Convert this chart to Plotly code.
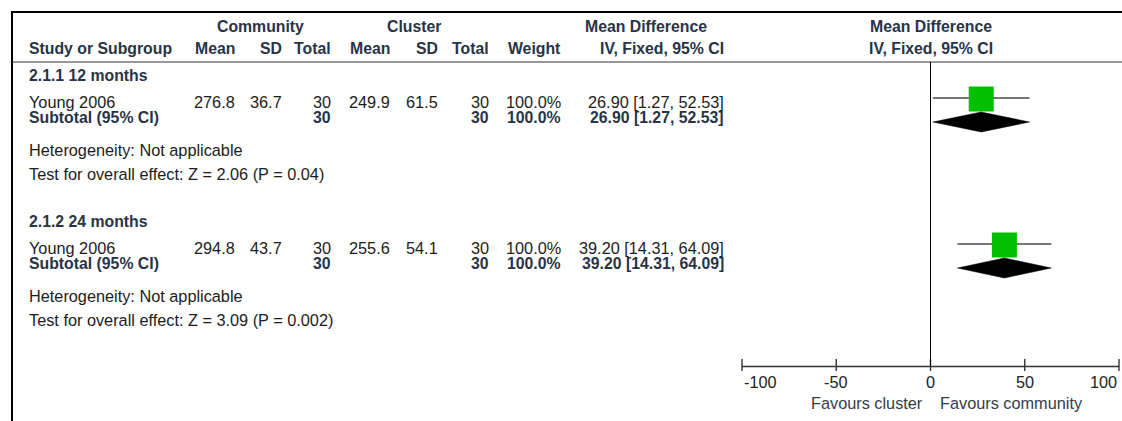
import plotly.graph_objects as go

# ---- data -------------------------------------------------------------
subgroups = ["2.1.1 12 months", "2.1.2 24 months"]
studies = ["Young 2006", "Young 2006"]
comm_mean = [276.8, 294.8]
comm_sd = [36.7, 43.7]
comm_n = [30, 30]
clus_mean = [249.9, 255.6]
clus_sd = [61.5, 54.1]
clus_n = [30, 30]
weight = [100.0, 100.0]
md = [26.90, 39.20]
ci_lo = [1.27, 14.31]
ci_hi = [52.53, 64.09]
sub_md = [26.90, 39.20]
sub_lo = [1.27, 14.31]
sub_hi = [52.53, 64.09]
heterogeneity = ["Not applicable", "Not applicable"]
z_values = [2.06, 3.09]
p_values = ["0.04", "0.002"]
tick_vals = [-100, -50, 0, 50, 100]
tick_text = ["-100", "-50", "0", "50", "100"]
left_label = "Favours cluster"
right_label = "Favours community"

# ---- layout constants (pixel rows / columns of the page) ---------------
W, H = 1122, 421
FONT = "Liberation Sans, Arial, sans-serif"
FS = 16.3
FS_B = 15.8
TXT = "#1c1c1c"
BOLD = "#283346"
AX_LEFT, AX_RIGHT = 742, 1119
AX_Y = 366.5
PAD = 2  # px of slack each side so the end ticks are not clipped
UNITS_PER_PX = (tick_vals[-1] - tick_vals[0]) / (AX_RIGHT - AX_LEFT)
group_top = [75, 221]

col_right = dict(cm=237, csd=284, cn=333, km=392, ksd=440, kn=491, w=563, ci=726)
STUDY_X = 27


def px(x):
    return x / W


def py(y):
    return 1 - y / H


annotations = []


def text(s, x, y, anchor="left", bold=False, color=None):
    annotations.append(dict(
        text=f"<b>{s}</b>" if bold else s,
        x=px(x), y=py(y), xref="paper", yref="paper",
        xanchor=anchor, yanchor="middle", showarrow=False,
        font=dict(family=FONT, size=FS_B if bold else FS,
                  color=color or (BOLD if bold else TXT)),
    ))


# header rows
text("Community", 260, 27, "center", True)
text("Cluster", 414, 27, "center", True)
text("Mean Difference", 646, 27, "center", True)
text("Mean Difference", (AX_LEFT + AX_RIGHT) / 2, 27, "center", True)
text("Study or Subgroup", STUDY_X, 49, "left", True)
for key, lab in [("cm", "Mean"), ("csd", "SD"), ("cn", "Total"), ("km", "Mean"),
                 ("ksd", "SD"), ("kn", "Total"), ("w", "Weight"), ("ci", "IV, Fixed, 95% CI")]:
    text(lab, col_right[key], 49, "right", True)
text("IV, Fixed, 95% CI", (AX_LEFT + AX_RIGHT) / 2, 49, "center", True)

fig = go.Figure()

for i, top in enumerate(group_top):
    y_sub, y_study, y_tot, y_het, y_test = top, top + 27, top + 42, top + 75, top + 99
    text(subgroups[i], STUDY_X, y_sub, "left", True)

    # study row
    text(studies[i], STUDY_X, y_study)
    text(f"{comm_mean[i]:.1f}", col_right["cm"], y_study, "right")
    text(f"{comm_sd[i]:.1f}", col_right["csd"], y_study, "right")
    text(f"{comm_n[i]}", col_right["cn"], y_study, "right")
    text(f"{clus_mean[i]:.1f}", col_right["km"], y_study, "right")
    text(f"{clus_sd[i]:.1f}", col_right["ksd"], y_study, "right")
    text(f"{clus_n[i]}", col_right["kn"], y_study, "right")
    text(f"{weight[i]:.1f}%", col_right["w"], y_study, "right")
    text(f"{md[i]:.2f} [{ci_lo[i]:.2f}, {ci_hi[i]:.2f}]", col_right["ci"], y_study, "right")

    # subtotal row
    text("Subtotal (95% CI)", STUDY_X, y_tot, "left", True)
    text(f"{comm_n[i]}", col_right["cn"], y_tot, "right", True)
    text(f"{clus_n[i]}", col_right["kn"], y_tot, "right", True)
    text(f"{weight[i]:.1f}%", col_right["w"], y_tot, "right", True)
    text(f"{sub_md[i]:.2f} [{sub_lo[i]:.2f}, {sub_hi[i]:.2f}]", col_right["ci"], y_tot, "right", True)

    text(f"Heterogeneity: {heterogeneity[i]}", STUDY_X, y_het)
    text(f"Test for overall effect: Z = {z_values[i]:.2f} (P = {p_values[i]})", STUDY_X, y_test)

    # confidence interval whisker
    y_mark = y_study - 4
    fig.add_trace(go.Scatter(
        x=[ci_lo[i], ci_hi[i]], y=[y_mark, y_mark], mode="lines",
        line=dict(color="#4a4a4a", width=1.3), hoverinfo="skip",
    ))
    # weighted square
    fig.add_trace(go.Scatter(
        x=[md[i]], y=[y_mark + 1], mode="markers",
        marker=dict(symbol="square", size=25 * (weight[i] / 100) ** 0.5,
                    color="#00c000", line=dict(width=0)),
        hoverinfo="skip",
    ))
    # pooled diamond
    yc = y_tot + 5
    fig.add_trace(go.Scatter(
        x=[sub_lo[i], sub_md[i], sub_hi[i], sub_md[i], sub_lo[i]],
        y=[yc, yc - 10, yc, yc + 10, yc],
        mode="lines", fill="toself", fillcolor="black",
        line=dict(color="black", width=0.5), hoverinfo="skip",
    ))

# effect axis: baseline and ticks crossing it
fig.add_trace(go.Scatter(
    x=[tick_vals[0], tick_vals[-1]], y=[AX_Y, AX_Y], mode="lines",
    line=dict(color="#333", width=1.4), hoverinfo="skip",
))
tick_x, tick_y = [], []
for v in tick_vals:
    tick_x += [v, v, None]
    tick_y += [AX_Y - 7.5, AX_Y + 4.5, None]
fig.add_trace(go.Scatter(
    x=tick_x, y=tick_y, mode="lines",
    line=dict(color="#333", width=1.4), hoverinfo="skip",
))

# axis tick labels, end labels kept inside the axis span
for v, t in zip(tick_vals, tick_text):
    anchor = "left" if v == tick_vals[0] else "right" if v == tick_vals[-1] else "center"
    annotations.append(dict(
        text=t, x=v, y=py(382), xref="x", yref="paper", xanchor=anchor, yanchor="middle",
        showarrow=False, font=dict(family=FONT, size=FS, color="#222"),
    ))

annotations.append(dict(
    text=left_label, x=0, y=py(403), xref="x", yref="paper", xanchor="right", xshift=-6,
    yanchor="middle", showarrow=False, font=dict(family=FONT, size=FS, color="#343c4c"),
))
annotations.append(dict(
    text=right_label, x=0, y=py(403), xref="x", yref="paper", xanchor="left", xshift=7,
    yanchor="middle", showarrow=False, font=dict(family=FONT, size=FS, color="#343c4c"),
))

shapes = [
    # outer frame (top and left) and header rule
    dict(type="line", xref="paper", yref="paper", x0=px(11), x1=1, y0=py(12), y1=py(12),
         line=dict(color="black", width=2)),
    dict(type="line", xref="paper", yref="paper", x0=px(12), x1=px(12), y0=py(11), y1=0,
         line=dict(color="black", width=2)),
    dict(type="line", xref="paper", yref="paper", x0=px(12), x1=1, y0=py(62), y1=py(62),
         line=dict(color="#333", width=1)),
    # line of no effect
    dict(type="line", xref="x", yref="paper", x0=0, x1=0, y0=py(62), y1=py(AX_Y),
         line=dict(color="black", width=1)),
]

fig.update_layout(
    width=W, height=H, margin=dict(l=0, r=0, t=0, b=0),
    paper_bgcolor="white", plot_bgcolor="rgba(0,0,0,0)",
    showlegend=False, annotations=annotations, shapes=shapes,
    xaxis=dict(
        domain=[px(AX_LEFT - PAD), px(AX_RIGHT + PAD)],
        range=[tick_vals[0] - PAD * UNITS_PER_PX, tick_vals[-1] + PAD * UNITS_PER_PX],
        visible=False, fixedrange=True,
    ),
    yaxis=dict(domain=[0, 1], range=[H, 0], visible=False, fixedrange=True),
)

fig.write_html("out.html")
